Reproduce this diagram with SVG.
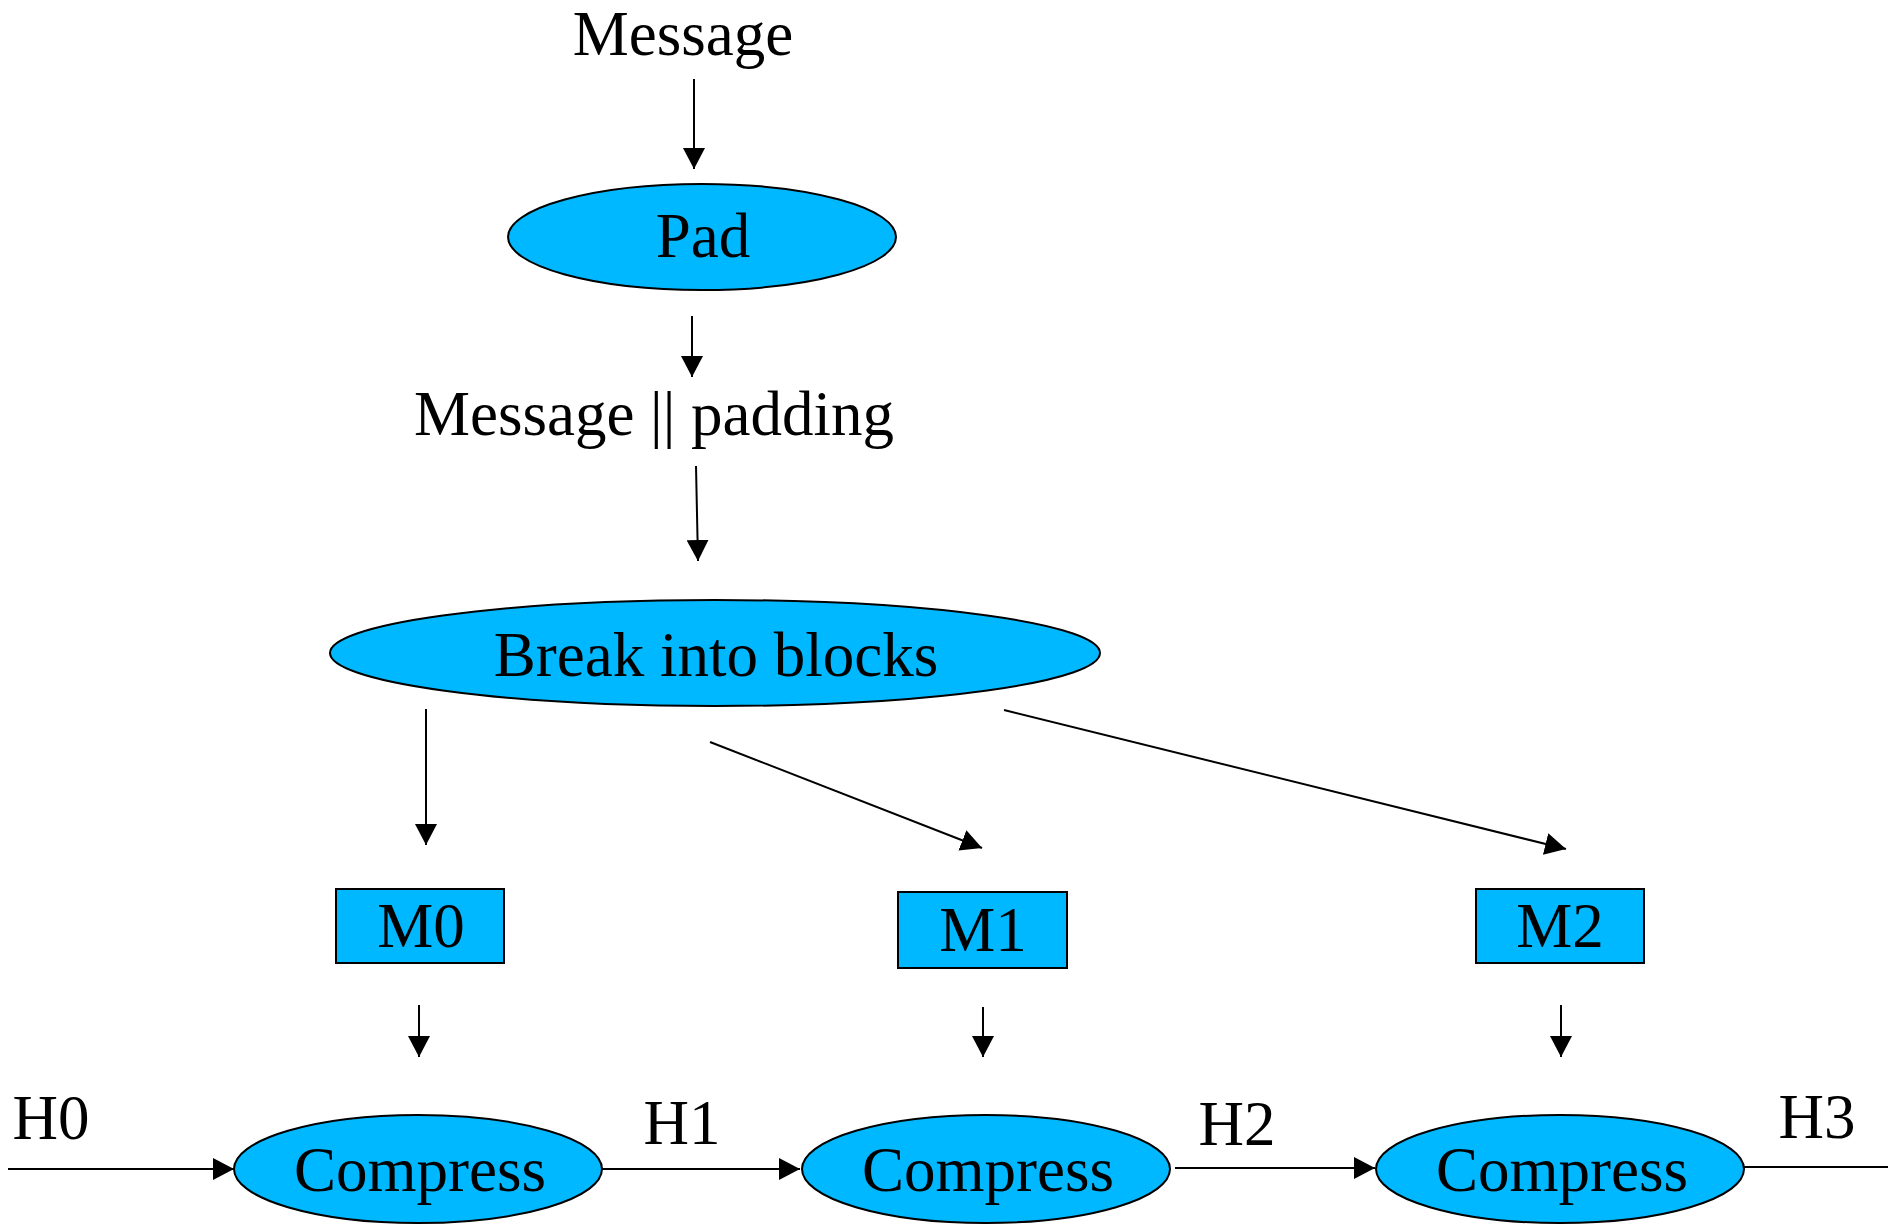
<svg xmlns="http://www.w3.org/2000/svg" width="1888" height="1224" viewBox="0 0 1888 1224">
<style>
.n{fill:#00B8FF;stroke:#000;stroke-width:2}
.t{font-family:"Liberation Serif","Times New Roman",serif;font-size:63px;fill:#000;text-anchor:middle}
.c line{stroke:#000;stroke-width:2;marker-end:url(#ah)}
.c line.p{marker-end:none}
</style>
<defs>
<marker id="ah" markerUnits="userSpaceOnUse" markerWidth="22" markerHeight="22" refX="21" refY="11" orient="auto">
<path d="M0,0 L21,11 L0,22 z" fill="#000"/>
</marker>
</defs>
<rect width="1888" height="1224" fill="#fff"/>
<g class="c" id="connectors">
<line x1="694" y1="79" x2="694" y2="169"/>
<line x1="692" y1="316" x2="692" y2="377"/>
<line x1="696" y1="466" x2="698" y2="561"/>
<line x1="426" y1="709" x2="426" y2="845"/>
<line x1="710" y1="742" x2="982" y2="848"/>
<line x1="1004" y1="710" x2="1566" y2="849"/>
<line x1="419" y1="1005" x2="419" y2="1057"/>
<line x1="983" y1="1007" x2="983" y2="1057"/>
<line x1="1561" y1="1005" x2="1561" y2="1057"/>
<line x1="8" y1="1169" x2="234" y2="1169"/>
<line x1="602" y1="1169" x2="800" y2="1169"/>
<line x1="1175" y1="1168" x2="1375" y2="1168"/>
<line class="p" x1="1743" y1="1167" x2="1888" y2="1167"/>
</g>
<g id="label-message"><text class="t" x="683" y="55">Message</text></g>
<g id="node-pad">
<ellipse class="n" cx="702" cy="237" rx="194" ry="53"/>
<text class="t" x="703" y="257">Pad</text>
</g>
<g id="label-padded"><text class="t" x="654" y="435">Message || padding</text></g>
<g id="node-break">
<ellipse class="n" cx="715" cy="653" rx="385" ry="53"/>
<text class="t" x="716" y="676">Break into blocks</text>
</g>
<g id="node-m0">
<rect class="n" x="336" y="889" width="168" height="74"/>
<text class="t" x="421" y="947">M0</text>
</g>
<g id="node-m1">
<rect class="n" x="898" y="892" width="169" height="76"/>
<text class="t" x="983" y="951">M1</text>
</g>
<g id="node-m2">
<rect class="n" x="1476" y="889" width="168" height="74"/>
<text class="t" x="1560" y="947">M2</text>
</g>
<g id="node-c1">
<ellipse class="n" cx="418" cy="1169" rx="184" ry="54"/>
<text class="t" x="420" y="1191">Compress</text>
</g>
<g id="node-c2">
<ellipse class="n" cx="986" cy="1169" rx="184" ry="54"/>
<text class="t" x="988" y="1191">Compress</text>
</g>
<g id="node-c3">
<ellipse class="n" cx="1560" cy="1169" rx="184" ry="54"/>
<text class="t" x="1562" y="1191">Compress</text>
</g>
<g id="labels-h">
<text class="t" x="51" y="1139">H0</text>
<text class="t" x="682" y="1144">H1</text>
<text class="t" x="1237" y="1145">H2</text>
<text class="t" x="1817" y="1138">H3</text>
</g>
</svg>
